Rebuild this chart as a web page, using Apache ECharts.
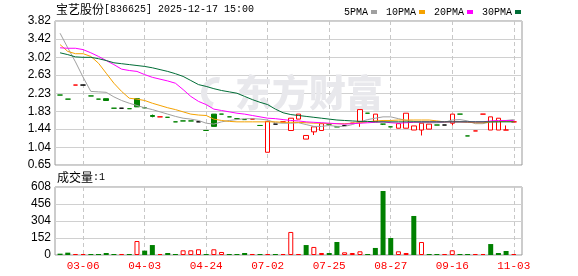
<!DOCTYPE html>
<html><head><meta charset="utf-8">
<script src="https://cdn.jsdelivr.net/npm/echarts@6/dist/echarts.min.js"></script>
<style>html,body{margin:0;padding:0;background:#fff}#c{width:578px;height:276px}</style>
</head><body><div id="c"></div>
<script>
// ---- data ----
const stockName = '宝艺股份';
const stockInfo = '[836625] 2025-12-17 15:00';
const volName = '成交量';
const volInfo = ':1';
const watermark = '东方财富';
const dateIdx = [3, 11, 19, 27, 35, 43, 51, 59];
const dateLabels = ['03-06', '04-03', '04-24', '07-02', '07-25', '08-27', '09-16', '11-03'];
const priceTicks = [0.65, 1.04, 1.44, 1.83, 2.23, 2.63, 3.02, 3.42, 3.82];
const volTicks = [0, 152, 304, 456, 608];

const open  = [2.19,2.10,2.41,2.41,2.17,2.10,2.11,1.90,1.90,1.89, 2.11,1.91,1.74,1.71,1.70,1.60,1.62,1.62,1.60,1.41, 1.77,1.77,1.71,1.67,1.65,1.66,1.52,0.93,1.55,1.60, 1.41,1.66,1.22,1.38,1.41,1.55,1.49,1.52,1.57,1.61, 1.79,1.61,1.55,1.49,1.46,1.46,1.42,1.42,1.44,1.53, 1.53,1.57,1.77,1.29,1.40,1.77,1.42,1.42,1.42,1.60];
const close = [2.19,2.10,2.41,2.41,2.17,2.10,2.07,1.90,1.90,1.89, 1.93,1.91,1.72,1.71,1.70,1.60,1.62,1.62,1.60,1.41, 1.50,1.77,1.71,1.67,1.65,1.66,1.52,1.61,1.55,1.60, 1.68,1.77,1.30,1.49,1.56,1.55,1.49,1.52,1.57,1.87, 1.79,1.77,1.55,1.49,1.56,1.79,1.51,1.57,1.55,1.53, 1.53,1.77,1.77,1.29,1.40,1.77,1.71,1.68,1.42,1.60];
const low   = [2.19,2.10,2.41,2.41,2.17,2.10,2.07,1.90,1.90,1.89, 1.93,1.91,1.70,1.71,1.70,1.60,1.62,1.62,1.60,1.41, 1.50,1.77,1.71,1.67,1.65,1.66,1.52,0.93,1.55,1.60, 1.41,1.66,1.22,1.31,1.41,1.55,1.49,1.52,1.57,1.49, 1.79,1.61,1.53,1.49,1.46,1.46,1.42,1.30,1.44,1.53, 1.53,1.52,1.77,1.29,1.40,1.77,1.42,1.42,1.42,1.60];
const high  = [2.19,2.10,2.41,2.41,2.17,2.10,2.11,1.90,1.90,1.89, 2.12,1.91,1.76,1.71,1.70,1.60,1.62,1.62,1.60,1.41, 1.77,1.77,1.71,1.67,1.65,1.66,1.52,1.61,1.55,1.60, 1.68,1.77,1.30,1.49,1.56,1.55,1.49,1.52,1.57,1.87, 1.79,1.77,1.55,1.49,1.56,1.79,1.51,1.57,1.55,1.53, 1.53,1.77,1.77,1.29,1.40,1.77,1.71,1.68,1.52,1.60];
// candle colour as seen: 1 red (up), -1 green (down), 0 black (unchanged)
const candleDir = [-1,-1,1,0,-1,-1,-1,-1,0,-1, -1,-1,-1,1,-1,-1,-1,-1,0,-1, -1,-1,-1,-1,-1,1,-1,1,0,1, 1,1,1,1,1,-1,-1,0,1,1, -1,1,-1,-1,1,1,1,1,1,-1, 0,1,-1,-1,1,1,1,1,1,1];
const volume = [12,21,9,9,9,9,18,9,9,9, 125,39,89,9,18,9,42,42,51,9, 51,27,9,9,18,9,9,9,9,9, 206,9,89,72,18,18,116,24,18,33, 9,63,572,152,33,18,349,116,9,9, 9,42,9,9,9,9,98,18,36,9];
const volDir = [-1,-1,1,1,-1,-1,-1,-1,1,-1, 1,-1,-1,1,-1,-1,1,1,1,-1, 1,1,-1,-1,-1,1,-1,1,-1,1, 1,1,-1,1,1,-1,-1,1,1,1, -1,-1,-1,-1,1,1,-1,1,-1,-1, 1,1,-1,-1,1,1,-1,-1,-1,1];

const ma5  = [3.55,3.23,2.92,2.58,2.27,2.26,2.25,2.15,2.07,2.01, 1.96,1.91,1.87,1.82,1.77,1.72,1.68,1.66,1.63,1.57, 1.55,1.60,1.63,1.65,1.67,1.67,1.66,1.64,1.58,1.57, 1.57,1.58,1.54,1.50,1.50,1.52,1.50,1.50,1.54,1.60, 1.65,1.68,1.71,1.71,1.67,1.63,1.61,1.58,1.58,1.58, 1.59,1.64,1.65,1.62,1.56,1.56,1.60,1.60,1.63,1.65];
const ma10 = [3.30,3.15,3.10,3.10,3.04,2.89,2.67,2.45,2.27,2.12, 2.10,2.07,2.01,1.96,1.91,1.87,1.82,1.77,1.75,1.74, 1.66,1.63,1.61,1.60,1.60,1.60,1.60,1.60,1.60,1.59, 1.59,1.59,1.58,1.57,1.57,1.56,1.56,1.56,1.57,1.58, 1.60,1.62,1.63,1.63,1.64,1.64,1.64,1.64,1.64,1.62, 1.60,1.60,1.60,1.59,1.58,1.58,1.60,1.61,1.61,1.61];
const ma20 = [3.23,3.22,3.22,3.19,3.12,3.04,2.95,2.86,2.76,2.73, 2.71,2.64,2.58,2.54,2.50,2.45,2.31,2.16,2.05,1.98, 1.88,1.85,1.82,1.79,1.77,1.74,1.71,1.68,1.67,1.65, 1.63,1.62,1.60,1.59,1.58,1.57,1.56,1.55,1.56,1.57, 1.58,1.59,1.60,1.58,1.57,1.58,1.59,1.60,1.60,1.60, 1.60,1.60,1.60,1.60,1.60,1.60,1.62,1.63,1.63,1.63];
const ma30 = [3.12,3.08,3.03,3.02,3.02,2.99,2.95,2.90,2.88,2.86, 2.84,2.82,2.79,2.75,2.71,2.66,2.60,2.51,2.42,2.38, 2.33,2.29,2.26,2.23,2.16,2.09,2.03,1.98,1.88,1.80, 1.76,1.74,1.72,1.70,1.68,1.66,1.64,1.63,1.62,1.61, 1.61,1.60,1.60,1.60,1.60,1.60,1.60,1.60,1.60,1.60, 1.60,1.60,1.60,1.60,1.60,1.60,1.60,1.60,1.60,1.60];

// ---- build ----
const RED = '#ff0000', GREEN = '#008000', BLACK = '#000000';
const maColors = ['#a0a0a0', '#f5a200', '#ff00ff', '#006d36'];
const candleData = open.map((o, i) => {
  const d = candleDir[i];
  const col = d > 0 ? RED : (d < 0 ? GREEN : BLACK);
  const fill = d > 0 ? '#ffffff' : col;
  return { value: [i, o, close[i], low[i], high[i]],
    itemStyle: { color: fill, color0: fill, borderColor: col, borderColor0: col, borderColorDoji: col } };
});
const volData = volume.map((v, i) => ({ value: [i, v],
  itemStyle: volDir[i] > 0 ? { color: '#ffffff', borderColor: RED, borderWidth: 1 } : { color: GREEN, borderColor: GREEN, borderWidth: 0 } }));
const pair = arr => arr.map((v, i) => [i, v]);

const xMin = -0.66, xMax = 60.07;
const dashed = { show: true, lineStyle: { color: '#c8c8c8', type: [4, 3], width: 1 } };
const solidH = { show: true, lineStyle: { color: '#d0d0d0', width: 1 } };
const yLabel = { color: '#000', fontFamily: 'Liberation Sans', fontSize: 12, margin: 4 };

const chart = echarts.init(document.getElementById('c'), null, { renderer: 'canvas' });
chart.setOption({
  animation: false,
  backgroundColor: '#fff',
  legend: {
    left: 339, top: 2, align: 'right', itemWidth: 6, itemHeight: 4, itemGap: 9,
    icon: 'rect',
    textStyle: { fontFamily: 'Liberation Mono', fontSize: 10, color: '#000', padding: [0, -2, 0, 0] },
    data: ['5PMA', '10PMA', '20PMA', '30PMA']
  },
  graphic: [
    { type: 'text', left: 56, top: 3, z: 10,
      style: { text: '{a|' + stockName + '}{b|' + stockInfo + '}',
        rich: { a: { fontFamily: 'Noto Sans CJK SC', fontSize: 12, fill: '#000' },
                b: { fontFamily: 'Liberation Mono', fontSize: 10, fill: '#000' } } } },
    { type: 'text', left: 57, top: 171, z: 10,
      style: { text: '{a|' + volName + '}{b|' + volInfo + '}',
        rich: { a: { fontFamily: 'Noto Sans CJK SC', fontSize: 12, fill: '#000' },
                b: { fontFamily: 'Liberation Mono', fontSize: 10, fill: '#000' } } } },
    { type: 'text', x: 309, y: 93, z: 1,
      style: { text: watermark, fontFamily: 'Noto Sans CJK SC', fontWeight: 900, fontSize: 37,
        fill: '#e8e8ec', align: 'center', verticalAlign: 'middle' } },
    { type: 'arc', z: 1, shape: { cx: 217, cy: 93, r: 13, startAngle: 1.9, endAngle: 4.9 },
      style: { stroke: '#e8e8ec', lineWidth: 6, fill: null } }
  ],
  grid: [
    { left: 55, top: 21, width: 467, height: 144, show: true, borderColor: '#999', borderWidth: 1 },
    { left: 55, top: 187, width: 467, height: 68, show: true, borderColor: '#999', borderWidth: 1 }
  ],
  xAxis: [
    { type: 'value', gridIndex: 0, min: xMin, max: xMax,
      axisLine: { show: false }, axisTick: { show: false, customValues: dateIdx },
      axisLabel: { show: false, customValues: dateIdx }, splitLine: dashed },
    { type: 'value', gridIndex: 1, min: xMin, max: xMax,
      axisLine: { show: false }, axisTick: { show: false, customValues: dateIdx },
      axisLabel: { show: true, customValues: dateIdx, color: RED, fontFamily: 'Liberation Mono', fontSize: 11, margin: 6,
        formatter: v => dateLabels[dateIdx.indexOf(Math.round(v))] || '' },
      splitLine: dashed }
  ],
  yAxis: [
    { type: 'value', gridIndex: 0, min: priceTicks[0], max: priceTicks[priceTicks.length - 1],
      axisLine: { show: false }, axisTick: { show: false, customValues: priceTicks },
      axisLabel: Object.assign({ customValues: priceTicks, formatter: v => v.toFixed(2) }, yLabel),
      splitLine: solidH },
    { type: 'value', gridIndex: 1, min: volTicks[0], max: volTicks[volTicks.length - 1], interval: volTicks[1] - volTicks[0],
      axisLine: { show: false }, axisTick: { show: false },
      axisLabel: yLabel, splitLine: solidH }
  ],
  series: [
    { type: 'candlestick', xAxisIndex: 0, yAxisIndex: 0, barWidth: 5, encode: { x: 0, y: [1, 2, 3, 4] },
      itemStyle: { borderWidth: 1 }, data: candleData, z: 3 },
    { name: '5PMA', type: 'line', xAxisIndex: 0, yAxisIndex: 0, data: pair(ma5), showSymbol: false,
      lineStyle: { color: maColors[0], width: 1 }, itemStyle: { color: maColors[0] }, z: 4 },
    { name: '10PMA', type: 'line', xAxisIndex: 0, yAxisIndex: 0, data: pair(ma10), showSymbol: false,
      lineStyle: { color: maColors[1], width: 1 }, itemStyle: { color: maColors[1] }, z: 4 },
    { name: '20PMA', type: 'line', xAxisIndex: 0, yAxisIndex: 0, data: pair(ma20), showSymbol: false,
      lineStyle: { color: maColors[2], width: 1 }, itemStyle: { color: maColors[2] }, z: 4 },
    { name: '30PMA', type: 'line', xAxisIndex: 0, yAxisIndex: 0, data: pair(ma30), showSymbol: false,
      lineStyle: { color: maColors[3], width: 1 }, itemStyle: { color: maColors[3] }, z: 4 },
    { type: 'bar', xAxisIndex: 1, yAxisIndex: 1, barWidth: 5, data: volData, z: 3 }
  ]
});
</script></body></html>
